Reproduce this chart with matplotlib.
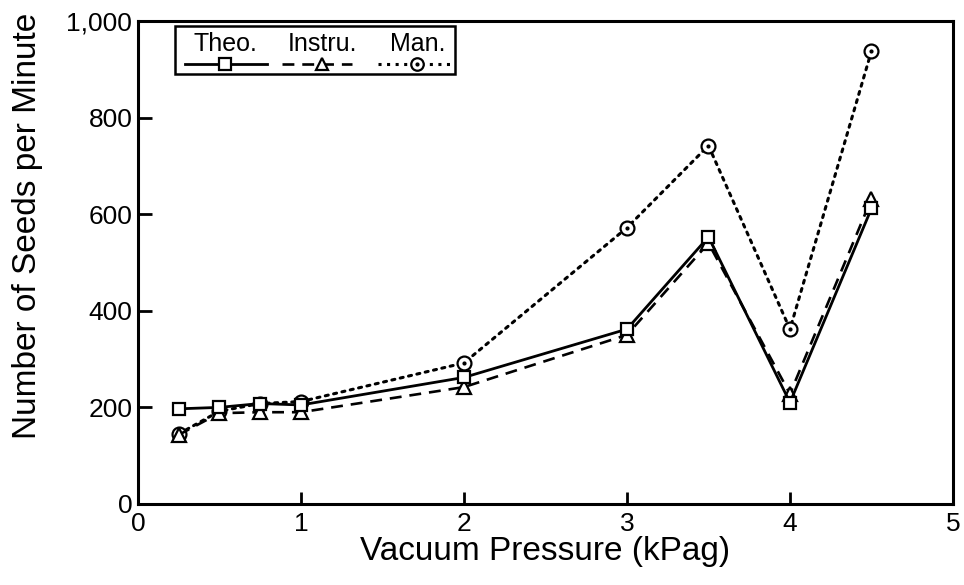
import matplotlib
matplotlib.use('Agg')
import matplotlib.pyplot as plt
from matplotlib.ticker import FuncFormatter

plt.rcParams['font.family'] = ['Liberation Sans', 'DejaVu Sans']

# vacuum pressure (kPag) and seed counts per minute
pressure = [0.25, 0.5, 0.75, 1.0, 2.0, 3.0, 3.5, 4.0, 4.5]
theo = [197, 200, 208, 205, 262, 362, 553, 210, 612]
instru = [143, 188, 190, 190, 242, 350, 540, 228, 632]
manual = [145, 192, 208, 212, 292, 572, 742, 362, 938]

fig = plt.figure(figsize = (9.64, 5.85), dpi = 100)
ax = fig.add_axes([0.143, 0.1385, 0.8456, 0.8256])

mk = dict(markersize = 10, markerfacecolor = 'white', markeredgecolor = 'black',
          markeredgewidth = 1.6)

ax.plot(pressure, manual, color = 'black', lw = 2.2, linestyle = (0, (1, 1.8)),
        dash_capstyle = 'round', marker = 'o', zorder = 2, **mk)
ax.plot(pressure, manual, linestyle = 'none', marker = '.', color = 'black',
        markersize = 4, zorder = 2)
ax.plot(pressure, instru, color = 'black', lw = 1.9, dashes = (4.5, 3),
        marker = '^', zorder = 3, **mk)
ax.plot(pressure, theo, color = 'black', lw = 2.0, marker = 's', zorder = 4,
        **dict(mk, markersize = 9))

ax.set_xlim(0, 5)
ax.set_ylim(0, 1000)
ax.set_xticks([0, 1, 2, 3, 4, 5])
ax.set_yticks([0, 200, 400, 600, 800, 1000])
ax.yaxis.set_major_formatter(FuncFormatter(lambda v, p: '{:,.0f}'.format(v)))
ax.tick_params(direction = 'in', length = 10, width = 2, labelsize = 19)
ax.tick_params(axis = 'y', pad = 4)
ax.tick_params(axis = 'x', pad = 6, length = 9)
for s in ax.spines.values():
    s.set_linewidth(2.2)

ax.set_xlabel('Vacuum Pressure (kPag)', fontsize = 24, labelpad = 0)
ax.set_ylabel('Number of Seeds per Minute', fontsize = 24)
ax.yaxis.set_label_coords(-0.116, 0.575)

# legend: labels sit above their line samples, all inside one box
lg = ax.transAxes
ax.add_patch(plt.Rectangle((0.046, 0.89), 0.343, 0.1, transform = lg, fill = False,
                           lw = 1.8, zorder = 5, clip_on = False))
entries = [
    ('Theo.', 0.107, 0.058, 0.159, dict(lw = 2.0, marker = 's')),
    ('Instru.', 0.226, 0.177, 0.263, dict(lw = 1.9, marker = '^', dashes = (4.5, 3))),
    ('Man.', 0.343, 0.294, 0.386, dict(lw = 2.2, marker = 'o',
                                       linestyle = (0, (1, 1.8)))),
]
for label, xc, x0, x1, style in entries:
    ax.text(xc, 0.952, label, transform = lg, ha = 'center', va = 'center',
            fontsize = 18, zorder = 6)
    ax.plot([x0, x1], [0.91, 0.91], transform = lg, color = 'black',
            lw = style.pop('lw'), clip_on = False, zorder = 6,
            **{k: v for k, v in style.items() if k != 'marker'})
    ax.plot([xc], [0.91], transform = lg, linestyle = 'none', clip_on = False,
            zorder = 7, marker = style['marker'], **dict(mk, markersize = 9))
ax.plot([0.343], [0.91], transform = lg, linestyle = 'none', marker = '.',
        color = 'black', markersize = 4, clip_on = False, zorder = 8)

fig.savefig('out.png', dpi = 100)
